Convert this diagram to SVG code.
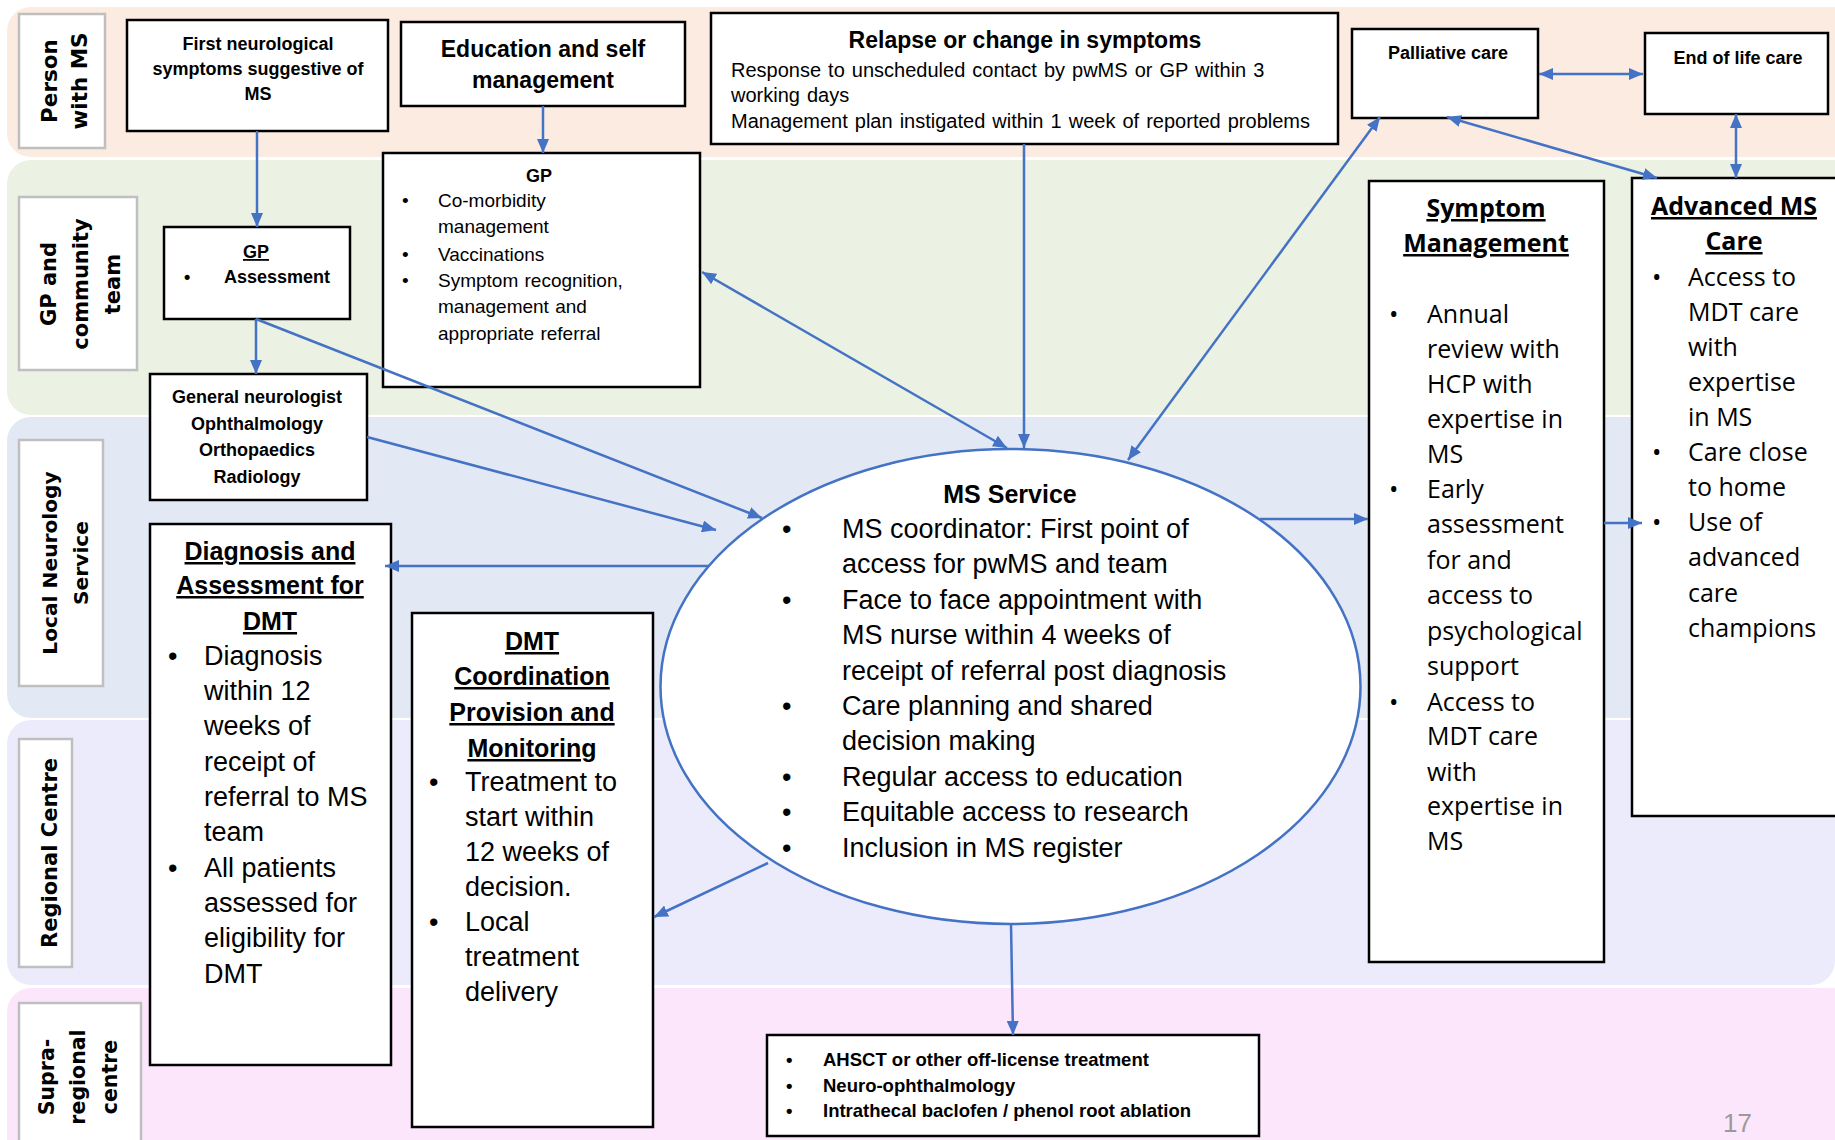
<svg xmlns="http://www.w3.org/2000/svg" width="1835" height="1140" viewBox="0 0 1835 1140">
  <style>
    .lane-label { fill: #ffffff; stroke: #bfbfbf; stroke-width: 2.5; }
    .lbl { font-family: "DejaVu Sans", Verdana, sans-serif; font-weight: bold; fill: #000; text-anchor: middle; }
    .box { fill: #ffffff; stroke: #000000; stroke-width: 2.5; }
    .sb { font-family: "Liberation Sans", Arial, sans-serif; font-weight: bold; font-size: 18px; fill: #000; }
    .sb2 { font-family: "Liberation Sans", Arial, sans-serif; font-weight: bold; font-size: 18.5px; fill: #000; }
    .hd { font-family: "Liberation Sans", Arial, sans-serif; font-weight: bold; font-size: 23px; fill: #000; text-anchor: middle; }
    .sr { font-family: "Liberation Sans", Arial, sans-serif; font-size: 19px; fill: #000; word-spacing: 1px; }
    .rb { font-family: "Liberation Sans", Arial, sans-serif; font-size: 20px; fill: #000; word-spacing: 1.5px; }
    .big { font-family: "Liberation Sans", Arial, sans-serif; font-size: 27px; fill: #000; }
    .bigt { font-family: "Liberation Sans", Arial, sans-serif; font-size: 25px; font-weight: bold; fill: #000; text-anchor: middle; text-decoration: underline; }
    .mst { font-family: "Liberation Sans", Arial, sans-serif; font-size: 25px; font-weight: bold; fill: #000; text-anchor: middle; }
    .os { font-family: "Open Sans", "DejaVu Sans", sans-serif; font-size: 25px; fill: #000; }
    .ost { font-family: "Open Sans", "DejaVu Sans", sans-serif; font-size: 25px; font-weight: bold; fill: #000; text-anchor: middle; text-decoration: underline; }
    .mid { text-anchor: middle; }
    .ul { text-decoration: underline; }
    .conn { stroke: #4472c4; stroke-width: 2.5; fill: none; }
  </style>
  <defs>
    <marker id="arrow" markerUnits="userSpaceOnUse" markerWidth="14" markerHeight="12" refX="14" refY="6" orient="auto-start-reverse">
      <path d="M0,0 L14,6 L0,12 z" fill="#4472c4"/>
    </marker>
  </defs>

  <!-- swim lanes -->
  <g id="lanes">
    <rect x="7" y="7" width="1850" height="150" rx="24" fill="#fbebe1"/>
    <rect x="7" y="160" width="1850" height="255" rx="24" fill="#ebf1e3"/>
    <rect x="7" y="417" width="1850" height="301" rx="24" fill="#e3e8f5"/>
    <rect x="7" y="720" width="1828" height="265" rx="24" fill="#ecebfc"/>
    <rect x="7" y="988" width="1850" height="190" rx="24" fill="#fce6fc"/>

    <rect class="lane-label" x="19" y="14" width="86" height="134"/>
    <text class="lbl" font-size="21.5" transform="translate(57,81) rotate(-90)">Person</text>
    <text class="lbl" font-size="21.5" transform="translate(87,81) rotate(-90)">with MS</text>

    <rect class="lane-label" x="19" y="197" width="118" height="173"/>
    <text class="lbl" font-size="21" transform="translate(56,284) rotate(-90)">GP and</text>
    <text class="lbl" font-size="21" transform="translate(88,284) rotate(-90)">community</text>
    <text class="lbl" font-size="21" transform="translate(120,284) rotate(-90)">team</text>

    <rect class="lane-label" x="19" y="440" width="84" height="246"/>
    <text class="lbl" font-size="20.2" transform="translate(57,563) rotate(-90)">Local Neurology</text>
    <text class="lbl" font-size="20.2" transform="translate(88,563) rotate(-90)">Service</text>

    <rect class="lane-label" x="19" y="739" width="53" height="228"/>
    <text class="lbl" font-size="21" transform="translate(57,853) rotate(-90)">Regional Centre</text>

    <rect class="lane-label" x="19" y="1003" width="122" height="160"/>
    <text class="lbl" font-size="20.5" transform="translate(54,1077) rotate(-90)">Supra-</text>
    <text class="lbl" font-size="20.5" transform="translate(85,1077) rotate(-90)">regional</text>
    <text class="lbl" font-size="20.5" transform="translate(117,1077) rotate(-90)">centre</text>
  </g>

  <!-- nodes -->
  <g id="first-symptoms">
    <rect class="box" x="127" y="20" width="261" height="111"/>
    <text class="sb mid" x="258" y="50">First neurological</text>
    <text class="sb mid" x="258" y="75">symptoms suggestive of</text>
    <text class="sb mid" x="258" y="100">MS</text>
  </g>

  <g id="education">
    <rect class="box" x="401" y="22" width="284" height="84"/>
    <text class="hd" x="543" y="57">Education and self</text>
    <text class="hd" x="543" y="88">management</text>
  </g>

  <g id="relapse">
    <rect class="box" x="711" y="13" width="627" height="131"/>
    <text class="hd" x="1025" y="48">Relapse or change in symptoms</text>
    <text class="rb" x="731" y="77">Response to unscheduled contact by pwMS or GP within 3</text>
    <text class="rb" x="731" y="102">working days</text>
    <text class="rb" x="731" y="128">Management plan instigated within 1 week of reported problems</text>
  </g>

  <g id="palliative">
    <rect class="box" x="1352" y="29" width="186" height="89"/>
    <text class="sb mid" x="1448" y="59">Palliative care</text>
  </g>

  <g id="end-of-life">
    <rect class="box" x="1645" y="33" width="183" height="81"/>
    <text class="sb mid" x="1738" y="64">End of life care</text>
  </g>

  <g id="gp-assessment">
    <rect class="box" x="164" y="227" width="186" height="92"/>
    <text class="sb mid ul" x="256" y="258">GP</text>
    <text class="sb" x="184" y="283">•</text>
    <text class="sb" x="224" y="283">Assessment</text>
  </g>

  <g id="gp">
    <rect class="box" x="383" y="153" width="317" height="234"/>
    <text class="sb mid" x="539" y="182">GP</text>
    <text class="sr" x="402" y="207">•</text>
    <text class="sr" x="438" y="207">Co-morbidity</text>
    <text class="sr" x="438" y="233">management</text>
    <text class="sr" x="402" y="261">•</text>
    <text class="sr" x="438" y="261">Vaccinations</text>
    <text class="sr" x="402" y="287">•</text>
    <text class="sr" x="438" y="287">Symptom recognition,</text>
    <text class="sr" x="438" y="313">management and</text>
    <text class="sr" x="438" y="340">appropriate referral</text>
  </g>

  <g id="general-neurologist">
    <rect class="box" x="150" y="374" width="217" height="126"/>
    <text class="sb mid" x="257" y="403">General neurologist</text>
    <text class="sb mid" x="257" y="430">Ophthalmology</text>
    <text class="sb mid" x="257" y="456">Orthopaedics</text>
    <text class="sb mid" x="257" y="483">Radiology</text>
  </g>

  <g id="diagnosis">
    <rect class="box" x="150" y="524" width="241" height="541"/>
    <text class="bigt" x="270" y="560">Diagnosis and</text>
    <text class="bigt" x="270" y="594">Assessment for</text>
    <text class="bigt" x="270" y="630">DMT</text>
    <text class="big" x="168" y="665">•</text>
    <text class="big" x="204" y="665">Diagnosis</text>
    <text class="big" x="204" y="700">within 12</text>
    <text class="big" x="204" y="735">weeks of</text>
    <text class="big" x="204" y="771">receipt of</text>
    <text class="big" x="204" y="806">referral to MS</text>
    <text class="big" x="204" y="841">team</text>
    <text class="big" x="168" y="877">•</text>
    <text class="big" x="204" y="877">All patients</text>
    <text class="big" x="204" y="912">assessed for</text>
    <text class="big" x="204" y="947">eligibility for</text>
    <text class="big" x="204" y="983">DMT</text>
  </g>

  <g id="dmt">
    <rect class="box" x="412" y="613" width="241" height="514"/>
    <text class="bigt" x="532" y="650">DMT</text>
    <text class="bigt" x="532" y="685">Coordination</text>
    <text class="bigt" x="532" y="721">Provision and</text>
    <text class="bigt" x="532" y="757">Monitoring</text>
    <text class="big" x="429" y="791">•</text>
    <text class="big" x="465" y="791">Treatment to</text>
    <text class="big" x="465" y="826">start within</text>
    <text class="big" x="465" y="861">12 weeks of</text>
    <text class="big" x="465" y="896">decision.</text>
    <text class="big" x="429" y="931">•</text>
    <text class="big" x="465" y="931">Local</text>
    <text class="big" x="465" y="966">treatment</text>
    <text class="big" x="465" y="1001">delivery</text>
  </g>

  <g id="ms-service">
    <ellipse cx="1010.5" cy="686.5" rx="350" ry="237.5" fill="#ffffff" stroke="#4472c4" stroke-width="2.5"/>
    <text class="mst" x="1010" y="503">MS Service</text>
    <text class="big" x="782" y="538">•</text>
    <text class="big" x="842" y="538">MS coordinator: First point of</text>
    <text class="big" x="842" y="573">access for pwMS and team</text>
    <text class="big" x="782" y="609">•</text>
    <text class="big" x="842" y="609">Face to face appointment with</text>
    <text class="big" x="842" y="644">MS nurse within 4 weeks of</text>
    <text class="big" x="842" y="680">receipt of referral post diagnosis</text>
    <text class="big" x="782" y="715">•</text>
    <text class="big" x="842" y="715">Care planning and shared</text>
    <text class="big" x="842" y="750">decision making</text>
    <text class="big" x="782" y="786">•</text>
    <text class="big" x="842" y="786">Regular access to education</text>
    <text class="big" x="782" y="821">•</text>
    <text class="big" x="842" y="821">Equitable access to research</text>
    <text class="big" x="782" y="857">•</text>
    <text class="big" x="842" y="857">Inclusion in MS register</text>
  </g>

  <g id="symptom-management">
    <rect class="box" x="1369" y="181" width="235" height="781"/>
    <text class="ost" x="1486" y="217">Symptom</text>
    <text class="ost" x="1486" y="252">Management</text>
    <text class="os" x="1389" y="323">•</text>
    <text class="os" x="1427" y="323">Annual</text>
    <text class="os" x="1427" y="358">review with</text>
    <text class="os" x="1427" y="393">HCP with</text>
    <text class="os" x="1427" y="428">expertise in</text>
    <text class="os" x="1427" y="463">MS</text>
    <text class="os" x="1389" y="498">•</text>
    <text class="os" x="1427" y="498">Early</text>
    <text class="os" x="1427" y="533">assessment</text>
    <text class="os" x="1427" y="569">for and</text>
    <text class="os" x="1427" y="604">access to</text>
    <text class="os" x="1427" y="640">psychological</text>
    <text class="os" x="1427" y="675">support</text>
    <text class="os" x="1389" y="711">•</text>
    <text class="os" x="1427" y="711">Access to</text>
    <text class="os" x="1427" y="745">MDT care</text>
    <text class="os" x="1427" y="781">with</text>
    <text class="os" x="1427" y="815">expertise in</text>
    <text class="os" x="1427" y="850">MS</text>
  </g>

  <g id="advanced-ms-care">
    <rect class="box" x="1632" y="178" width="230" height="638"/>
    <text class="ost" x="1734" y="215">Advanced MS</text>
    <text class="ost" x="1734" y="250">Care</text>
    <text class="os" x="1652" y="286">•</text>
    <text class="os" x="1688" y="286">Access to</text>
    <text class="os" x="1688" y="321">MDT care</text>
    <text class="os" x="1688" y="356">with</text>
    <text class="os" x="1688" y="391">expertise</text>
    <text class="os" x="1688" y="426">in MS</text>
    <text class="os" x="1652" y="461">•</text>
    <text class="os" x="1688" y="461">Care close</text>
    <text class="os" x="1688" y="496">to home</text>
    <text class="os" x="1652" y="531">•</text>
    <text class="os" x="1688" y="531">Use of</text>
    <text class="os" x="1688" y="566">advanced</text>
    <text class="os" x="1688" y="602">care</text>
    <text class="os" x="1688" y="637">champions</text>
  </g>

  <g id="supra-regional-services">
    <rect class="box" x="767" y="1035" width="492" height="101"/>
    <text class="sb2" x="786" y="1066">•</text>
    <text class="sb2" x="823" y="1066">AHSCT or other off-license treatment</text>
    <text class="sb2" x="786" y="1092">•</text>
    <text class="sb2" x="823" y="1092">Neuro-ophthalmology</text>
    <text class="sb2" x="786" y="1117">•</text>
    <text class="sb2" x="823" y="1117">Intrathecal baclofen / phenol root ablation</text>
  </g>

  <!-- connectors -->
  <g id="connectors" class="conn">
    <path d="M257,131 L257,227" marker-end="url(#arrow)"/>
    <path d="M543,106 L543,153" marker-end="url(#arrow)"/>
    <path d="M256,319 L256,374" marker-end="url(#arrow)"/>
    <path d="M256,319 L762,518" marker-end="url(#arrow)"/>
    <path d="M367,437 L716,530" marker-end="url(#arrow)"/>
    <path d="M702,272 L1007,448" marker-start="url(#arrow)" marker-end="url(#arrow)"/>
    <path d="M1024,144 L1024,448" marker-end="url(#arrow)"/>
    <path d="M1128,460 L1380,117" marker-start="url(#arrow)" marker-end="url(#arrow)"/>
    <path d="M1539,74 L1643,74" marker-start="url(#arrow)" marker-end="url(#arrow)"/>
    <path d="M1447,117 L1657,178" marker-start="url(#arrow)" marker-end="url(#arrow)"/>
    <path d="M1736,114 L1736,178" marker-start="url(#arrow)" marker-end="url(#arrow)"/>
    <path d="M1260,519 L1368,519" marker-end="url(#arrow)"/>
    <path d="M1604,523 L1642,523" marker-end="url(#arrow)"/>
    <path d="M709,566 L385,566" marker-end="url(#arrow)"/>
    <path d="M768,863 L654,917" marker-end="url(#arrow)"/>
    <path d="M1011,924 L1013,1035" marker-end="url(#arrow)"/>
  </g>

  <text x="1723" y="1132" font-family="Liberation Sans, Arial, sans-serif" font-size="26" fill="#9a9a9a">17</text>
</svg>
